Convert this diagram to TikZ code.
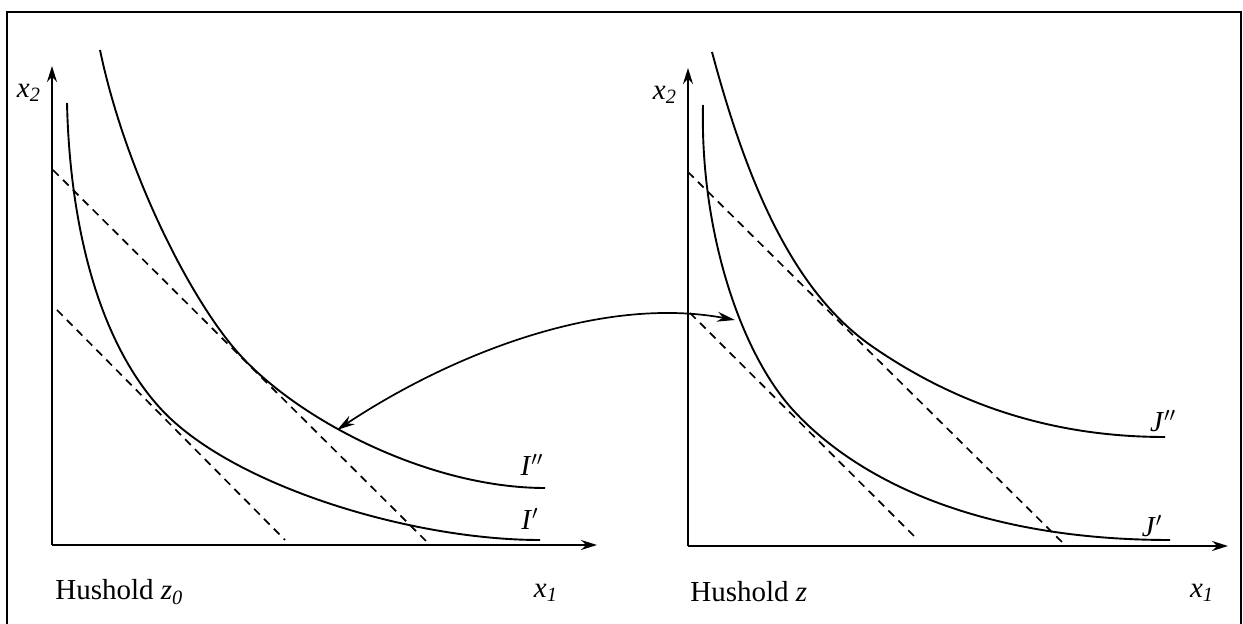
\documentclass[tikz,border=0pt]{standalone}
\usepackage{fontspec}
\setmainfont{Liberation Serif}
\usetikzlibrary{arrows.meta}
\tikzset{
  axis/.style={line width=1pt,-{Stealth[length=8pt,width=5pt]}},
  curve/.style={line width=0.95pt},
  budget/.style={line width=0.85pt,dash pattern=on 4pt off 3pt},
  frameline/.style={line width=0.9pt},
  lbl/.style={font=\fontsize{14.5}{16}\selectfont,inner sep=0pt},
  link/.style={line width=0.85pt,{Stealth[length=9pt,width=5pt]}-{Stealth[length=9pt,width=5pt]}}
}
\begin{document}
\begin{tikzpicture}[x=0.5pt,y=-0.5pt]
\useasboundingbox (0,0) rectangle (1243,624);
% frame
\draw[frameline] (7,624) -- (7,12) -- (1241,12) -- (1241,624);
% left axes
\coordinate (O1) at (52,545);
\draw[axis] (O1) -- (52,66);
\draw[axis] (O1) -- (597,545);
\node[lbl] (y1) at (29,93) {\textit{x\textsubscript{2}}};
\node[lbl] (x1) at (546,593) {\textit{x\textsubscript{1}}};
\node[lbl,anchor=west] (h1) at (55,592) {Hushold \textit{z\textsubscript{0}}};
% right axes
\coordinate (O2) at (688,546);
\draw[axis] (O2) -- (688,68);
\draw[axis] (O2) -- (1228,546);
\node[lbl] (y2) at (665,95) {\textit{x\textsubscript{2}}};
\node[lbl] (x2) at (1202,593) {\textit{x\textsubscript{1}}};
\node[lbl,anchor=west] (h2) at (690,592) {Hushold \textit{z}};
% left indifference curves
\draw[curve] (67,103) .. controls (70,230) and (100,342) .. (160,408)
                      .. controls (230,485) and (410,540) .. (540,540);
\draw[curve] (100,50) .. controls (125,170) and (190,300) .. (240,355)
                      .. controls (300,421) and (430,488) .. (545,488);
\draw[budget] (53,170) -- (430,545);
\draw[budget] (57,310) -- (285,540);
\node[lbl] (Ip) at (530,519) {\textit{I}$'$};
\node[lbl] (Ipp) at (532,465) {\textit{I}$''$};
% right indifference curves
\draw[curve] (703,105) .. controls (700,230) and (740,352) .. (793,410)
                       .. controls (858,481) and (980,540) .. (1170,540);
\draw[curve] (712,52) .. controls (745,175) and (790,290) .. (873,347)
                      .. controls (963,409) and (1060,437) .. (1165,437);
\draw[budget] (688,172) -- (1065,545);
\draw[budget] (690,313) -- (918,540);
\node[lbl] (Jp) at (1152,526) {\textit{J}$'$};
\node[lbl] (Jpp) at (1163,421) {\textit{J}$''$};
% linking arrow
\coordinate (A) at (337,430);
\coordinate (B) at (735,320);
\draw[link] (A) .. controls (450,355) and (600,295) .. (B);
\end{tikzpicture}
\end{document}
